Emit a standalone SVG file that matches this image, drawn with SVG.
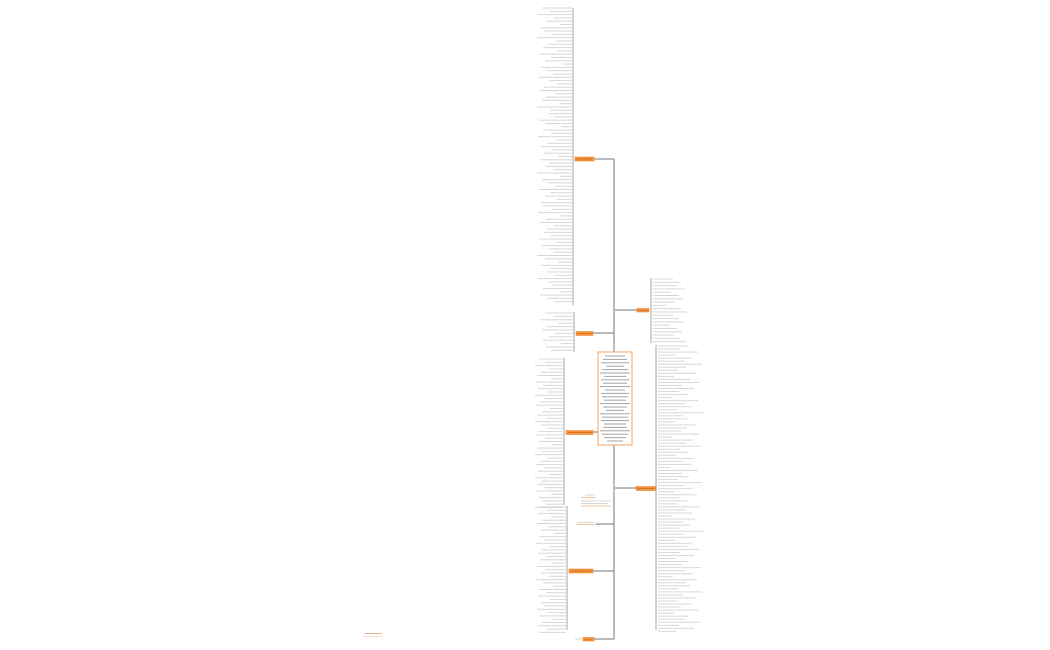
<svg xmlns="http://www.w3.org/2000/svg" width="1050" height="650" viewBox="0 0 1050 650">
<style>
.conn{fill:none;stroke:#777;stroke-width:1}
.brk{fill:none;stroke:#9a9a9a;stroke-width:0.9}
.leaf{fill:none;stroke:#d2d2d2;stroke-width:0.9}
.ctext{fill:none;stroke:#9a9a9a;stroke-width:0.9}
.node{fill:#f5913c;stroke:#f08a30;stroke-width:0.6}
.ntext{fill:none;stroke:#b8641f;stroke-width:0.6}
.ul{fill:none;stroke:#f7b27a;stroke-width:0.8}
</style>
<rect width="1050" height="650" fill="#fff"/>
<g id="connectors">
<path class="conn" d="M594 159H614V352M614 445V639H594M593 333H614M593 432H598M593 571H614M615 310H637M615 488H636M596 524H614"/>
</g>
<g id="center">
<rect x="598" y="352" width="34" height="93" fill="#fff" stroke="#f5a463" stroke-width="1"/>
<path class="ctext" d="M605 356h20M603 359.4h24M601 362.8h28M606 366.2h18M602 369.6h26M600 373h30M604 376.4h22M601 379.8h28M603 383.2h24M600 386.6h30M605 390h20M601 393.4h28M602 396.8h26M604 400.2h22M600 403.6h30M603 407h24M606 410.4h18M600 413.8h30M602 417.2h26M601 420.6h28M604 424h22M603 427.4h24M600 430.8h30M602 434.2h26M604 437.6h22M607 441h16"/>
</g>
<g id="n1">
<rect class="node" x="575" y="157" width="19" height="4"/>
<path class="ntext" d="M577 159h15"/>
<path class="brk" d="M573 8V305"/>
<path class="leaf" d="M572 8h-30m30 3.3h-22m22 3.3h-34m34 3.3h-18m18 3.3h-26m26 3.3h-12m12 3.3h-32m32 3.3h-28m28 3.3h-20m20 3.3h-35m35 3.3h-16m16 3.3h-24m24 3.3h-29m29 3.3h-14m14 3.3h-33m33 3.3h-21m21 3.3h-27m27 3.3h-10m10 3.3h-31m31 3.3h-25m25 3.3h-19m19 3.3h-34m34 3.3h-23m23 3.3h-15m15 3.3h-28m28 3.3h-32m32 3.3h-17m17 3.3h-26m26 3.3h-30m30 3.3h-13m13 3.3h-35m35 3.3h-22m22 3.3h-24m24 3.3h-18m18 3.3h-33m33 3.3h-27m27 3.3h-11m11 3.3h-29m29 3.3h-21m21 3.3h-34m34 3.3h-16m16 3.3h-25m25 3.3h-31m31 3.3h-20m20 3.3h-28m28 3.3h-14m14 3.3h-32m32 3.3h-23m23 3.3h-26m26 3.3h-19m19 3.3h-35m35 3.3h-12m12 3.3h-30m30 3.3h-24m24 3.3h-17m17 3.3h-33m33 3.3h-22m22 3.3h-27m27 3.3h-15m15 3.3h-31m31 3.3h-29m29 3.3h-20m20 3.3h-34m34 3.3h-13m13 3.3h-26m26 3.3h-32m32 3.3h-18m18 3.3h-25m25 3.3h-28m28 3.3h-21m21 3.3h-33m33 3.3h-16m16 3.3h-30m30 3.3h-23m23 3.3h-19m19 3.3h-35m35 3.3h-27m27 3.3h-14m14 3.3h-31m31 3.3h-22m22 3.3h-26m26 3.3h-17m17 3.3h-34m34 3.3h-24m24 3.3h-20m20 3.3h-29m29 3.3h-12m12 3.3h-32m32 3.3h-25m25 3.3h-18"/>
</g>
<g id="n2">
<rect class="node" x="576" y="331.5" width="17" height="4"/>
<path class="ntext" d="M578 333.5h13"/>
<path class="brk" d="M574 312V352"/>
<path class="leaf" d="M573 313h-28m28 3.4h-20m20 3.4h-33m33 3.4h-15m15 3.4h-26m26 3.4h-31m31 3.4h-18m18 3.4h-24m24 3.4h-30m30 3.4h-12m12 3.4h-27m27 3.4h-22"/>
</g>
<g id="n3">
<rect class="node" x="566" y="430.5" width="27" height="4"/>
<path class="ntext" d="M568 432.5h23"/>
<path class="brk" d="M564 358V505"/>
<path class="leaf" d="M563 359h-24m24 3.3h-18m18 3.3h-28m28 3.3h-14m14 3.3h-22m22 3.3h-26m26 3.3h-12m12 3.3h-27m27 3.3h-20m20 3.3h-25m25 3.3h-16m16 3.3h-28m28 3.3h-19m19 3.3h-23m23 3.3h-27m27 3.3h-13m13 3.3h-21m21 3.3h-26m26 3.3h-17m17 3.3h-28m28 3.3h-22m22 3.3h-15m15 3.3h-25m25 3.3h-27m27 3.3h-18m18 3.3h-24m24 3.3h-11m11 3.3h-26m26 3.3h-21m21 3.3h-28m28 3.3h-16m16 3.3h-23m23 3.3h-27m27 3.3h-19m19 3.3h-25m25 3.3h-14m14 3.3h-28m28 3.3h-22m22 3.3h-26m26 3.3h-18m18 3.3h-27m27 3.3h-12m12 3.3h-24m24 3.3h-21m21 3.3h-17m17 3.3h-28"/>
</g>
<g id="n4">
<path class="leaf" d="M585 495h10M581 501h29M581 503.5h27"/>
<path class="ul" d="M581 497.5h15M581 506h30"/>
</g>
<g id="n5">
<path class="leaf" d="M577 522.5h18"/>
<path class="ul" d="M576 524.5h20"/>
</g>
<g id="n6">
<rect class="node" x="569" y="569" width="24" height="4"/>
<path class="ntext" d="M571 571h20"/>
<path class="brk" d="M567 506V630"/>
<path class="leaf" d="M566 507h-26m26 3.3h-20m20 3.3h-28m28 3.3h-15m15 3.3h-24m24 3.3h-29m29 3.3h-18m18 3.3h-25m25 3.3h-12m12 3.3h-27m27 3.3h-22m22 3.3h-30m30 3.3h-16m16 3.3h-24m24 3.3h-28m28 3.3h-19m19 3.3h-26m26 3.3h-14m14 3.3h-29m29 3.3h-21m21 3.3h-25m25 3.3h-17m17 3.3h-30m30 3.3h-23m23 3.3h-13m13 3.3h-27m27 3.3h-20m20 3.3h-28m28 3.3h-16m16 3.3h-25m25 3.3h-22m22 3.3h-29m29 3.3h-18m18 3.3h-26m26 3.3h-14m14 3.3h-24m24 3.3h-28m28 3.3h-19m19 3.3h-27"/>
</g>
<g id="n7">
<rect class="node" x="583" y="637.5" width="11" height="3.5"/>
<path class="ntext" d="M585 639.3h7"/>
<path class="leaf" d="M575 639h7"/>
</g>
<g id="n8">
<rect class="node" x="637" y="308.5" width="12" height="3.5"/>
<path class="ntext" d="M639 310.3h8"/>
<path class="brk" d="M651 278V343"/>
<path class="leaf" d="M653 279h20m-20 3.3h28m-28 3.3h24m-24 3.3h32m-32 3.3h18m-18 3.3h26m-26 3.3h30m-30 3.3h22m-22 3.3h14m-14 3.3h28m-28 3.3h34m-34 3.3h20m-20 3.3h26m-26 3.3h31m-31 3.3h17m-17 3.3h24m-24 3.3h29m-29 3.3h21m-21 3.3h27m-27 3.3h33"/>
</g>
<g id="n9">
<rect class="node" x="636" y="486.5" width="20" height="4"/>
<path class="ntext" d="M638 488.5h16"/>
<path class="brk" d="M656 345V630"/>
<g transform="translate(0 346) scale(1 0.92) translate(0 -346)">
<path class="leaf" d="M658 346h30m-30 3.3h22m-22 3.3h40m-40 3.3h18m-18 3.3h34m-34 3.3h26m-26 3.3h44m-44 3.3h28m-28 3.3h20m-20 3.3h38m-38 3.3h16m-16 3.3h32m-32 3.3h42m-42 3.3h24m-24 3.3h36m-36 3.3h21m-21 3.3h30m-30 3.3h14m-14 3.3h40m-40 3.3h27m-27 3.3h33m-33 3.3h19m-19 3.3h45m-45 3.3h25m-25 3.3h31m-31 3.3h17m-17 3.3h38m-38 3.3h29m-29 3.3h23m-23 3.3h41m-41 3.3h15m-15 3.3h35m-35 3.3h28m-28 3.3h43m-43 3.3h22m-22 3.3h30m-30 3.3h18m-18 3.3h37m-37 3.3h26m-26 3.3h33m-33 3.3h12m-12 3.3h40m-40 3.3h24m-24 3.3h31m-31 3.3h20m-20 3.3h44m-44 3.3h27m-27 3.3h35m-35 3.3h16m-16 3.3h39m-39 3.3h23m-23 3.3h30m-30 3.3h19m-19 3.3h42m-42 3.3h28m-28 3.3h34m-34 3.3h14m-14 3.3h37m-37 3.3h25m-25 3.3h32m-32 3.3h21m-21 3.3h45m-45 3.3h26m-26 3.3h38m-38 3.3h17m-17 3.3h33m-33 3.3h29m-29 3.3h41m-41 3.3h22m-22 3.3h36m-36 3.3h18m-18 3.3h30m-30 3.3h24m-24 3.3h43m-43 3.3h27m-27 3.3h35m-35 3.3h15m-15 3.3h39m-39 3.3h28m-28 3.3h32m-32 3.3h20m-20 3.3h44m-44 3.3h25m-25 3.3h37m-37 3.3h19m-19 3.3h34m-34 3.3h23m-23 3.3h40m-40 3.3h16m-16 3.3h31m-31 3.3h27m-27 3.3h42m-42 3.3h21m-21 3.3h36m-36 3.3h18"/>
</g>
</g>
<g id="watermark">
<path d="M365 633.5h17" fill="none" stroke="#eeb090" stroke-width="1"/>
<path d="M363 636.5h20" fill="none" stroke="#f8d8c4" stroke-width="0.8"/>
</g>
</svg>
